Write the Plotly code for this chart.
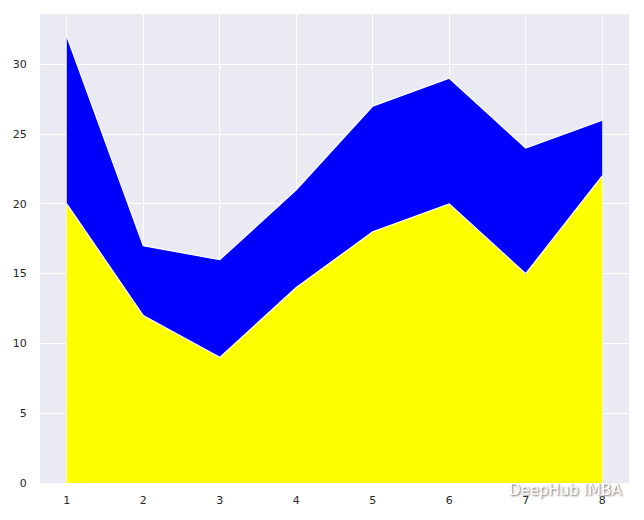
import plotly.graph_objects as go

x = [1, 2, 3, 4, 5, 6, 7, 8]
yellow_vals = [20, 12, 9, 14, 18, 20, 15, 22]
blue_vals = [12, 5, 7, 7, 9, 9, 9, 4]
y_ticks = [0, 5, 10, 15, 20, 25, 30]

fig = go.Figure()
fig.add_trace(go.Scatter(x=x, y=yellow_vals, stackgroup="one", mode="lines",
                         line=dict(color="white", width=1.2), fillcolor="#FFFF00",
                         name="a"))
fig.add_trace(go.Scatter(x=x, y=blue_vals, stackgroup="one", mode="lines",
                         line=dict(color="white", width=1.2), fillcolor="#0000FF",
                         name="b"))

fig.update_layout(
    width=644, height=520,
    margin=dict(l=32, r=23, t=6, b=45),
    paper_bgcolor="white",
    plot_bgcolor="#EAEAF2",
    showlegend=False,
    font=dict(family="DejaVu Sans", size=11, color="#262626"),
    xaxis=dict(range=[0.65, 8.35], tickvals=x, showgrid=True, gridcolor="white",
               gridwidth=1, zeroline=False, ticks="outside", ticklen=7,
               tickcolor="rgba(0,0,0,0)", showline=False, automargin=False),
    yaxis=dict(range=[0, 33.6], tickvals=y_ticks, showgrid=True, gridcolor="white",
               gridwidth=1, zeroline=False, ticks="outside", ticklen=10,
               tickcolor="rgba(0,0,0,0)", showline=False, automargin=False),
    annotations=[dict(text="DeepHub IMBA", x=0.9915, y=-0.015, xref="paper", yref="paper",
                      xanchor="right", yanchor="middle", showarrow=False,
                      font=dict(family="DejaVu Sans", size=15, color="white",
                                shadow="1px 1px 2px #666"))],
)

fig.write_html("out.html")
